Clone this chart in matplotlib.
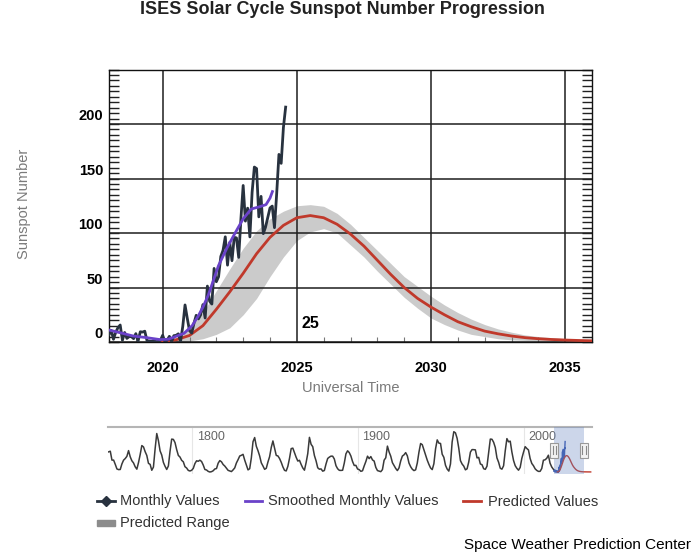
import matplotlib
matplotlib.use("Agg")
import matplotlib.pyplot as plt
import numpy as np
from matplotlib.lines import Line2D
from matplotlib.patches import Rectangle
from matplotlib.ticker import MultipleLocator
from matplotlib.transforms import ScaledTranslation, blended_transform_factory

plt.rcParams['font.family'] = ['Liberation Sans', 'DejaVu Sans']

# ---------------- data ----------------
title = "ISES Solar Cycle Sunspot Number Progression"

monthly_start_year = 2018  # first value = Jan 2018
monthly_values = [
    6.8, 10.7, 2.5, 8.9, 13.1, 15.6, 1.6, 8.7, 3.3, 4.9, 4.9, 3.1,
    7.7, 0.8, 9.4, 9.1, 9.9, 1.2, 0.9, 0.5, 1.1, 0.4, 0.5, 1.5,
    6.2, 0.2, 1.5, 5.2, 0.2, 5.8, 6.1, 7.5, 0.6, 14.4, 34.0, 21.8,
    10.4, 8.2, 17.2, 24.5, 21.2, 25.0, 34.3, 22.0, 51.3, 37.4, 34.8, 67.5,
    55.3, 59.9, 78.5, 84.1, 96.5, 70.5, 91.4, 74.6, 96.0, 95.5, 77.6, 113.1,
    143.6, 110.9, 122.8, 96.4, 137.4, 160.5, 159.1, 114.8, 133.6, 99.4, 105.4, 114.2,
    123.0, 124.7, 104.9, 136.5, 172.1, 163.9, 196.8, 215.5,
]

smoothed_years = [2018.0, 2018.4, 2018.9, 2019.4, 2019.9, 2020.2, 2020.4, 2020.8,
                  2021.1, 2021.33, 2021.5, 2021.7, 2022.08, 2022.39, 2022.7, 2023.0,
                  2023.3, 2023.6, 2023.85, 2024.0, 2024.09]
smoothed_values = [11, 8.6, 5.5, 4, 2.2, 2.5, 4.3, 8, 15, 24, 32, 43, 70, 86, 100,
                   113, 122, 124, 126, 132, 138]

pred_years = [2019.9, 2020.5, 2021.0, 2021.5, 2022.0, 2022.5, 2023.0, 2023.5, 2024.0,
              2024.5, 2025.0, 2025.5, 2026.0, 2026.5, 2027.0, 2027.5, 2028.0, 2028.5,
              2029.0, 2029.5, 2030.0, 2030.5, 2031.0, 2031.5, 2032.0, 2032.5, 2033.0,
              2033.5, 2034.0, 2034.5, 2035.0, 2035.5, 2036.0, 2037.0, 2038.0, 2039.0, 2040.0]
pred_values = [0.3, 2, 6, 15, 30, 46, 63, 81, 96, 107, 114, 116, 114, 108, 99, 88, 75,
               62, 50, 40, 32, 25, 18.6, 14, 10, 7.5, 5.5, 4, 3, 2.3, 1.8, 1.4, 1.1,
               0.9, 0.7, 0.6, 0.5]
pred_high = [0.5, 4, 13, 27, 47, 67, 86, 102, 113, 120, 125, 126, 124.5, 118, 108, 96,
             84, 72, 60, 51, 42, 34, 27, 21, 16, 12, 9, 6.5, 5, 4, 3, 2.5, 2,
             1.6, 1.3, 1.1, 1.0]
pred_low = [0, 0.3, 1, 3, 7, 13, 25, 40, 60, 78, 93, 101, 104, 100, 89, 78, 65, 53,
            41, 31, 22, 16, 11, 7, 5, 3, 2, 1.5, 1, 0.8, 0.6, 0.5, 0.4,
            0.3, 0.3, 0.2, 0.2]

# historical yearly sunspot numbers for the navigator (1749 - 2018)
hist_start_year = 1749
hist_values = [
    80.9, 83.4, 47.7, 47.8, 30.7, 12.2, 9.6, 10.2, 32.4, 47.6, 54.0, 62.9, 85.9, 61.2,
    45.1, 36.4, 20.9, 11.4, 37.8, 69.8, 106.1, 100.8, 81.6, 66.5, 34.8, 30.6, 7.0, 19.8,
    92.5, 154.4, 125.9, 84.8, 68.1, 38.5, 22.8, 10.2, 24.1, 82.9, 132.0, 130.9, 118.1,
    89.9, 66.6, 60.0, 46.9, 41.0, 21.3, 16.0, 6.4, 4.1, 6.8, 14.5, 34.0, 45.0, 43.1, 47.5,
    42.2, 28.1, 10.1, 8.1, 2.5, 0.0, 1.4, 5.0, 12.2, 13.9, 35.4, 45.8, 41.0, 30.1, 23.9,
    15.6, 6.6, 4.0, 1.8, 8.5, 16.6, 36.3, 49.6, 64.2, 67.0, 70.9, 47.8, 27.5, 8.5, 13.2,
    56.9, 121.5, 138.3, 103.2, 85.7, 64.6, 36.7, 24.2, 10.7, 15.0, 40.1, 61.5, 98.5,
    124.7, 96.3, 66.6, 64.5, 54.1, 39.0, 20.6, 6.7, 4.3, 22.7, 54.8, 93.8, 95.8, 77.2,
    59.1, 44.0, 47.0, 30.5, 16.3, 7.3, 37.6, 74.0, 139.0, 111.2, 101.6, 66.2, 44.7, 17.0,
    11.3, 12.4, 3.4, 6.0, 32.3, 54.3, 59.7, 63.7, 63.5, 52.2, 25.4, 13.1, 6.8, 6.3, 7.1,
    35.6, 73.0, 85.1, 78.0, 64.0, 41.8, 26.2, 26.7, 12.1, 9.5, 2.7, 5.0, 24.4, 42.0, 63.5,
    53.8, 62.0, 48.5, 43.9, 18.6, 5.7, 3.6, 1.4, 9.6, 47.4, 57.1, 103.9, 80.6, 63.6, 37.6,
    26.1, 14.2, 5.8, 16.7, 44.3, 63.9, 69.0, 77.8, 64.9, 35.7, 21.2, 11.1, 5.7, 8.7, 36.1,
    79.7, 114.4, 109.6, 88.8, 67.8, 47.5, 30.6, 16.3, 9.6, 33.2, 92.6,
    128.9, 115.9, 114.5, 71.3, 59.0, 26.8, 11.8, 3.7, 32.3, 120.4, 161.7, 157.1, 135.2,
    95.5, 45.8, 32.0, 23.7, 8.7, 12.8, 40.0, 79.7, 90.0, 89.7, 88.8, 56.6, 58.6, 32.3,
    29.3, 13.2, 10.7, 23.4, 78.6, 132.1, 131.4, 119.3, 98.5, 56.6, 39.0, 15.2, 11.4, 25.0,
    85.2, 134.0, 121.2, 123.8, 80.2, 46.4, 25.4, 14.9, 7.3, 18.3, 54.7, 79.3, 101.7, 94.4,
    88.4, 54.1, 34.3, 25.3, 12.9, 6.4, 2.5, 2.6, 14.0, 47.3, 49.0, 55.0, 67.4, 35.6, 20.3,
    11.1, 3.6,
]

y_ticks = [0, 50, 100, 150, 200]
x_ticks = [2020, 2025, 2030, 2035]
nav_ticks = [1800, 1900, 2000]
cycle_label = "25"

legend_labels = ["Monthly Values", "Smoothed Monthly Values", "Predicted Values", "Predicted Range"]

# ---------------- styles ----------------
C_MONTHLY = '#28323f'
C_SMOOTH = '#6a42c9'
C_PRED = '#c0392b'
C_BAND = '#cbcbcb'

W, H = 696, 556
def fx(px):
    return px / W
def fy(py):
    return 1 - py / H

fig = plt.figure(figsize=(W / 100, H / 100), dpi=100)

monthly_x = monthly_start_year + np.arange(len(monthly_values)) / 12.0

# ---------------- main chart ----------------
ax = fig.add_axes([fx(109), fy(342), (592 - 109) / W, (342 - 69.5) / H])
ax.set_xlim(2018, 2036)
ax.set_ylim(0, 250)

ax.fill_between(pred_years, pred_low, pred_high, color=C_BAND, lw=0, zorder=1)
ax.plot(pred_years, pred_values, color=C_PRED, lw=2, zorder=3)
ax.plot(monthly_x, monthly_values, color=C_MONTHLY, lw=2, zorder=4)
ax.plot(smoothed_years, smoothed_values, color=C_SMOOTH, lw=2, zorder=5)

ax.set_axisbelow('line')
ax.set_xticks(x_ticks)
ax.set_xticklabels([str(t) for t in x_ticks], fontweight='bold', fontsize=10.5)
ax.xaxis.set_minor_locator(MultipleLocator(1))
ax.set_yticks(y_ticks)
ax.set_yticklabels([])
ax.yaxis.set_minor_locator(MultipleLocator(5))
ax.grid(True, which='major', color='#1e1e1e', lw=1.1)

ax.tick_params(axis='x', which='major', length=0, pad=14)
ax.tick_params(axis='x', which='minor', direction='in', length=3.5, width=0.8,
               color='#777777', top=False)
ax.tick_params(axis='y', which='both', direction='in', left=True, right=True,
               length=7.5, width=1.0, color='#222222')
for s in ax.spines.values():
    s.set_color('#111111')
    s.set_linewidth(1.0)

ytrans = blended_transform_factory(ax.transAxes, ax.transData) + \
    ScaledTranslation(-4.3 / 72, 6.5 / 72, fig.dpi_scale_trans)
for v in y_ticks:
    ax.text(0, v, str(v), transform=ytrans, ha='right', va='center_baseline',
            fontweight='bold', fontsize=10.5, clip_on=False)

ax.text(2025.52, 17, cycle_label, ha='center', va='center', fontweight='bold',
        fontsize=11.5, zorder=6)

fig.text(fx(342.5), fy(9), title, ha='center', va='center', fontsize=13,
         fontweight='bold', color='#222222')
fig.text(fx(24), fy(204), 'Sunspot Number', rotation=90, ha='center', va='center',
         fontsize=10.5, color='#7a7a7a')
fig.text(fx(350.5), fy(388), 'Universal Time', ha='center', va='center',
         fontsize=10.5, color='#7a7a7a')

# ---------------- navigator ----------------
nav = fig.add_axes([fx(108.3), fy(474), (591.7 - 108.3) / W, 47 / H])
nav.set_xlim(1749.3, 2040.6)
nav.set_ylim(-8, 180.6)
hist_x = hist_start_year + np.arange(len(hist_values)) + 0.5
nav.plot(hist_x, hist_values, color='#3a3a3a', lw=1.1)
nav.set_xticks(nav_ticks)
nav.set_yticks([])
nav.tick_params(length=0, labelbottom=False)
nav.grid(True, axis='x', color='#e6e6e6', lw=0.8)
for s in ['left', 'right', 'bottom']:
    nav.spines[s].set_visible(False)
nav.spines['top'].set_color('#b5b5b5')
nav.spines['top'].set_linewidth(1.5)
for t in nav_ticks:
    nav.text(t, 0.79, str(t), transform=nav.get_xaxis_transform() +
             ScaledTranslation(3 / 72, 0, fig.dpi_scale_trans),
             fontsize=9, color='#666666', ha='left', va='center')

nav2 = nav.twinx()
nav2.set_ylim(-14.1, 318.3)
nav2.set_yticks([])
for s in nav2.spines.values():
    s.set_visible(False)
nav2.plot(monthly_x, monthly_values, color='#3556b0', lw=1.0, zorder=2)
nav2.plot(pred_years, pred_values, color=C_PRED, lw=1.0, zorder=2)
sel0, sel1 = ax.get_xlim()
nav2.axvspan(sel0, sel1, color='#6685c2', alpha=0.33, lw=0, zorder=5)
px_per_year = (591.7 - 108.3) / (2040.6 - 1749.3)
hw = 7.7 / px_per_year
xt = nav2.get_xaxis_transform()
for xe in (sel0, sel1):
    nav2.add_patch(Rectangle((xe - hw / 2, 0.35), hw, 0.32, transform=xt,
                             facecolor='#f2f2f2', edgecolor='#999999', lw=0.8,
                             zorder=6, clip_on=False))
    for dx in (-0.22, 0.22):
        nav2.add_line(Line2D([xe + dx * hw, xe + dx * hw], [0.43, 0.59], transform=xt,
                             color='#888888', lw=0.8, zorder=7, clip_on=False))

# ---------------- legend ----------------
r1, r2 = fy(501.5), fy(523.5)
fig.add_artist(Line2D([fx(97), fx(115)], [fy(501), fy(501)], color=C_MONTHLY, lw=2))
fig.add_artist(Line2D([fx(106)], [fy(501)], marker='D', ms=5, color=C_MONTHLY))
fig.text(fx(120), r1, legend_labels[0], ha='left', va='center', fontsize=10.5, color='#333333')
fig.add_artist(Line2D([fx(245), fx(262)], [fy(501), fy(501)], color=C_SMOOTH, lw=2))
fig.text(fx(268), r1, legend_labels[1], ha='left', va='center', fontsize=10.5, color='#333333')
fig.add_artist(Line2D([fx(463), fx(481)], [fy(501), fy(501)], color=C_PRED, lw=2))
fig.text(fx(488), r1, legend_labels[2], ha='left', va='center', fontsize=10.5, color='#333333')
fig.add_artist(Rectangle((fx(97), fy(526)), 18 / W, 6 / H, color='#8c8c8c'))
fig.text(fx(120), r2, legend_labels[3], ha='left', va='center', fontsize=10.5, color='#333333')

fig.text(fx(691), fy(545.5), 'Space Weather Prediction Center', ha='right', va='center',
         fontsize=11, color='black')

fig.savefig('out.png', dpi=100)
